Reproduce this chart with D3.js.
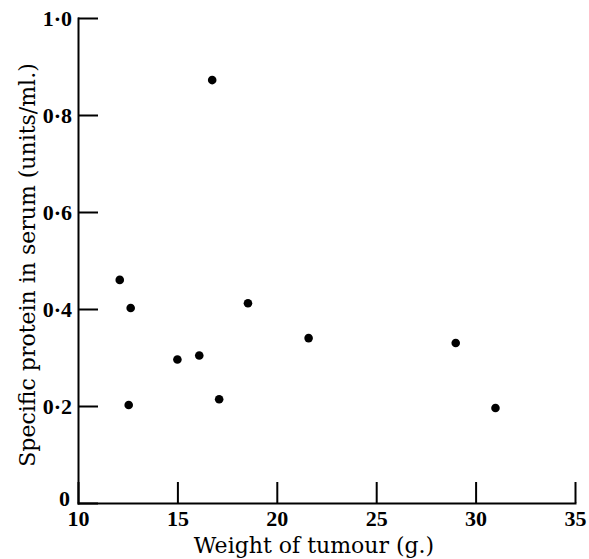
<!DOCTYPE html>
<html>
<head>
	<title>Tumour weight vs serum protein</title>
	<script src="https://d3js.org/d3.v7.min.js"></script>
	<style>
		body { margin: 0; background: white; }
		text {
			font-family: "DejaVu Serif", "Liberation Serif", serif;
			fill: black;
		}
		.axis path, .axis line {
			fill: none;
			stroke: black;
			stroke-width: 2;
		}
		.tick text {
			font-family: "Liberation Serif", serif;
			font-size: 22px;
			font-weight: bold;
		}
		.title {
			font-size: 22px;
		}
	</style>
</head>
<body>

	<svg id="main" width="589" height="559"></svg>

<script>

		// weight of tumour (g.)
		var tumourWeight = [12.1, 12.65, 12.55, 15.0, 16.1, 17.1, 16.75, 18.55, 21.6, 29.0, 31.0];
		// specific protein in serum (units/ml.)
		var serumProtein = [0.46, 0.402, 0.202, 0.296, 0.304, 0.214, 0.872, 0.412, 0.340, 0.330, 0.196];

		var xTicks = [10, 15, 20, 25, 30, 35];
		var yTicks = [0, 0.2, 0.4, 0.6, 0.8, 1.0];

		var svg = d3.select('#main');

		var x = d3.scaleLinear().domain([10, 35]).range([78, 575]);
		var y = d3.scaleLinear().domain([0, 1]).range([503, 18]);

		function yLabel(d) {
			if (d === 0) return '0';
			return d3.format('.1f')(d).replace('.', '\u00B7');
		}

		// x axis, ticks point up into the plot
		svg.append('g')
			.attr('class', 'axis')
			.attr('transform', 'translate(0,503)')
			.call(d3.axisBottom(x)
				.tickValues(xTicks)
				.tickSizeInner(-21)
				.tickSizeOuter(0)
				.tickPadding(7)
				.tickFormat(d3.format('d')));

		// y axis, ticks point right into the plot
		var yAxis = svg.append('g')
			.attr('class', 'axis')
			.attr('transform', 'translate(78,0)')
			.call(d3.axisLeft(y)
				.tickValues(yTicks)
				.tickSizeInner(-20)
				.tickSizeOuter(0)
				.tickPadding(6)
				.tickFormat(yLabel));

		// the 0 sits a little higher and further left, clear of the 10
		yAxis.selectAll('.tick text')
			.filter(function(d) { return d === 0; })
			.attr('dy', '0.1em')
			.attr('x', -8);

		svg.selectAll('.domain').attr('stroke-linecap', 'square');

		svg.append('g').selectAll('circle')
			.data(tumourWeight)
			.enter().append('circle')
			.attr('cx', function(d) { return x(d); })
			.attr('cy', function(d, i) { return y(serumProtein[i]); })
			.attr('r', 4.3)
			.attr('fill', 'black');

		svg.append('text')
			.attr('class', 'title')
			.attr('x', 314)
			.attr('y', 553)
			.attr('text-anchor', 'middle')
			.text('Weight of tumour (g.)');

		svg.append('text')
			.attr('class', 'title')
			.attr('transform', 'translate(35,265) rotate(-90)')
			.attr('text-anchor', 'middle')
			.text('Specific protein in serum (units/ml.)');

	</script>
</body>
</html>
